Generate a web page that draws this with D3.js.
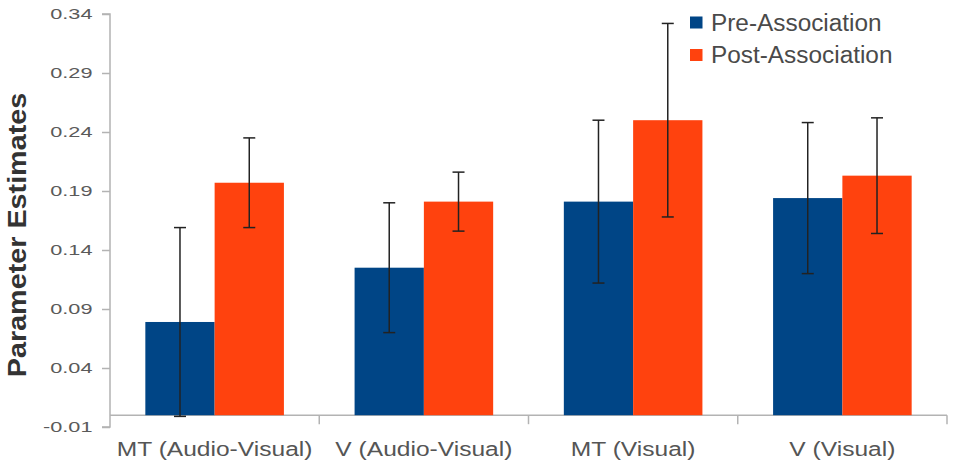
<!DOCTYPE html>
<html>
<head>
<meta charset="utf-8">
<script src="https://cdn.jsdelivr.net/npm/d3@7"></script>
<style>
  html, body { margin: 0; padding: 0; background: #fff; }
  svg { display: block; }
  text { font-family: "Liberation Sans", Arial, sans-serif; }
</style>
</head>
<body>
<svg id="chart" width="954" height="465"></svg>
<script>
const categories = ["MT (Audio-Visual)", "V (Audio-Visual)", "MT (Visual)", "V (Visual)"];
const seriesNames = ["Pre-Association", "Post-Association"];
const preValues = [0.079, 0.125, 0.181, 0.184];
const preErrors = [0.080, 0.055, 0.069, 0.064];
const postValues = [0.197, 0.181, 0.250, 0.203];
const postErrors = [0.038, 0.025, 0.082, 0.049];
const yTickLabels = ["-0.01", "0.04", "0.09", "0.14", "0.19", "0.24", "0.29", "0.34"];
const colors = ["#004586", "#ff420e"];

(function () {
const svg = d3.select("#chart");
const mLeft = 110, mRight = 947, mTop = 14, mBottom = 427;

const y = d3.scaleLinear().domain([-0.01, 0.34]).range([mBottom, mTop]);
const x = d3.scaleBand().domain(categories).range([mLeft, mRight]).padding(0);
const xs = d3.scaleBand().domain(seriesNames).range([0, x.bandwidth()]).paddingInner(0).paddingOuter(0.51);

const data = categories.map((c, i) => ({
  cat: c,
  vals: [
    { s: seriesNames[0], v: preValues[i], e: preErrors[i] },
    { s: seriesNames[1], v: postValues[i], e: postErrors[i] }
  ]
}));

// y axis
const yAxis = d3.axisLeft(y)
  .tickValues(yTickLabels.map(Number))
  .tickFormat((d, i) => yTickLabels[i])
  .tickSize(8).tickPadding(0);
const ya = svg.append("g").attr("transform", `translate(${mLeft},0)`).call(yAxis);
ya.select(".domain").attr("stroke", "#b3b3b3").attr("stroke-width", 1.5).attr("d", `M-8,${mTop}H0V${mBottom}H-8`);
ya.selectAll(".tick line").attr("stroke", "#b3b3b3").attr("stroke-width", 1.5);
ya.selectAll(".tick text")
  .attr("x", 0).attr("dy", "0.35em")
  .attr("fill", "#5a5a5a").attr("font-size", 14)
  .attr("font-family", "'Liberation Sans', Arial, sans-serif")
  .attr("transform", "translate(-17.5,0) scale(1.55,1)");

// x axis at value 0
const xa = svg.append("g").attr("transform", `translate(0,${y(0)})`);
xa.append("line").attr("x1", mLeft).attr("x2", mRight).attr("y1", 0).attr("y2", 0)
  .attr("stroke", "#b3b3b3").attr("stroke-width", 1.5);
const bounds = categories.map(c => x(c) + x.bandwidth());
xa.selectAll("line.sep").data(bounds).enter().append("line")
  .attr("x1", d => d).attr("x2", d => d).attr("y1", 0).attr("y2", 9)
  .attr("stroke", "#b3b3b3").attr("stroke-width", 1.5);
xa.selectAll("text.cat").data(categories).enter().append("text")
  .attr("x", d => x(d) + x.bandwidth() / 2)
  .attr("y", 41)
  .attr("text-anchor", "middle")
  .attr("fill", "#555")
  .attr("font-size", 21)
  .attr("transform", d => { const cx = x(d) + x.bandwidth() / 2; return `translate(${cx},0) scale(1.17,1) translate(${-cx},0)`; })
  .text(d => d);

// bars
const g = svg.append("g");
const groups = g.selectAll("g.grp").data(data).enter().append("g")
  .attr("transform", d => `translate(${x(d.cat)},0)`);
groups.selectAll("rect").data(d => d.vals).enter().append("rect")
  .attr("x", d => xs(d.s))
  .attr("width", xs.bandwidth())
  .attr("y", d => y(Math.max(0, d.v)))
  .attr("height", d => Math.abs(y(0) - y(d.v)))
  .attr("fill", (d, i) => colors[i]);

// error bars
groups.each(function (d) {
  const sel = d3.select(this);
  d.vals.forEach(v => {
    const cx = xs(v.s) + xs.bandwidth() / 2;
    const y1 = y(v.v + v.e), y2 = y(v.v - v.e);
    sel.append("line").attr("x1", cx).attr("x2", cx).attr("y1", y1).attr("y2", y2)
      .attr("stroke", "#222").attr("stroke-width", 1.5);
    [y1, y2].forEach(yy => sel.append("line").attr("x1", cx - 6).attr("x2", cx + 6).attr("y1", yy).attr("y2", yy)
      .attr("stroke", "#222").attr("stroke-width", 1.5));
  });
});

// y title
svg.append("text")
  .attr("transform", "translate(26,235) rotate(-90) scale(1.15,1)")
  .attr("text-anchor", "middle")
  .attr("font-size", 25)
  .attr("font-weight", "bold")
  .attr("fill", "#333")
  .text("Parameter Estimates");

// legend
const lg = svg.append("g").attr("transform", "translate(690,16.5)");
seriesNames.forEach((s, i) => {
  lg.append("rect").attr("x", 0).attr("y", i * 32.5).attr("width", 12.5).attr("height", 12).attr("fill", colors[i]);
  lg.append("text").attr("x", 21).attr("y", i * 32.5 + 14.2)
    .attr("font-size", 23).attr("fill", "#4a4a4a")
    .attr("transform", `translate(21,0) scale(1.06,1) translate(-21,0)`)
    .text(s);
});
})();
</script>
</body>
</html>
